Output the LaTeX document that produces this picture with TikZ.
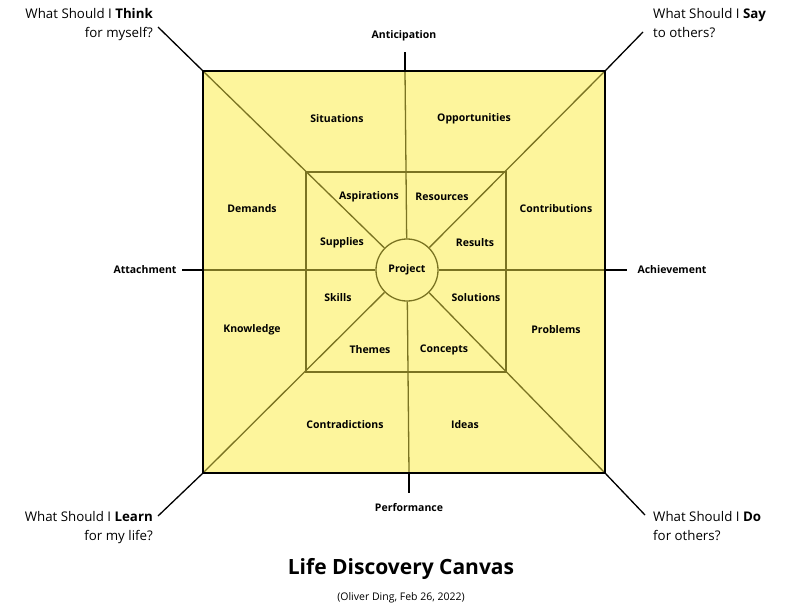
\documentclass[tikz,border=0pt]{standalone}
\usepackage{fontspec}
\setmainfont{Open Sans}
\usetikzlibrary{positioning}
\definecolor{canvasfill}{HTML}{FDF59C}
\definecolor{canvasline}{HTML}{7A7322}

\begin{document}
\begin{tikzpicture}[x=1pt,y=-1pt,
  lab/.style={font=\fontsize{10.5}{12}\selectfont\bfseries, inner sep=1pt},
  ask/.style={font=\fontsize{13.3}{19}\selectfont, inner sep=0pt},
  olive/.style={draw=canvasline, line width=1.3pt},
  stem/.style={draw=black, line width=1.3pt}]
\useasboundingbox (0,0) rectangle (786,613);
% outer and inner squares
\coordinate (otl) at (203,71);  \coordinate (otr) at (605,71);
\coordinate (obl) at (203,473); \coordinate (obr) at (605,473);
\coordinate (itl) at (306,172); \coordinate (ibr) at (506,372);
\fill[canvasfill] (otl) rectangle (obr);
\draw[olive] (itl) rectangle (ibr);
\node[circle, olive, fill=canvasfill, minimum size=62pt, lab] (proj) at (407,270) {Project};
% axes
\coordinate (nin) at (405,71);  \coordinate (nout) at (405,52);
\coordinate (sin) at (409,473); \coordinate (sout) at (409,493);
\coordinate (win) at (203,270); \coordinate (wout) at (182,270);
\coordinate (ein) at (605,270); \coordinate (eout) at (627,270);
\foreach \c in {otl,otr,obl,obr,nin,sin,win,ein}
  \draw[olive] (\c) -- (proj);
\foreach \a/\b in {nin/nout,sin/sout,win/wout,ein/eout}
  \draw[stem] (\a) -- (\b);
\draw[line width=1.5pt] (otl) rectangle (obr);
% corner stems
\coordinate (qtl) at (158,27); \coordinate (qtr) at (643,32);
\coordinate (qbl) at (158,516); \coordinate (qbr) at (645,515);
\foreach \a/\b in {otl/qtl,otr/qtr,obl/qbl,obr/qbr}
  \draw[stem] (\a) -- (\b);
% sector labels
\foreach \x/\y/\l in {337/119/Situations,474/119/Opportunities,252/209/Demands,
  556/209/Contributions,252/330/Knowledge,556/330/Problems,345/425/Contradictions,
  465/425/Ideas,369/197/Aspirations,442/197/Resources,342/243/Supplies,
  475/243/Results,338/298/Skills,476/298/Solutions,370/350/Themes,444/350/Concepts}
  \node[lab] at (\x,\y) {\l};
\node[lab] (antic) at (404,36) {Anticipation};
\node[lab] (perf) at (409,508) {Performance};
\node[lab] (attach) at (145,270) {Attachment};
\node[lab] (achieve) at (672,270) {Achievement};
% questions
\node[ask, align=right, anchor=north east] (think) at (153,8) {What Should I \textbf{Think}\\for myself?};
\node[ask, align=left, anchor=north west] (say) at (653,8) {What Should I \textbf{Say}\\to others?};
\node[ask, align=right, anchor=north east] (learn) at (153,511) {What Should I \textbf{Learn}\\for my life?};
\node[ask, align=left, anchor=north west] (do) at (653,511) {What Should I \textbf{Do}\\for others?};
% title
\node[font=\fontsize{21}{25}\selectfont\bfseries] (title) at (401,569) {Life Discovery Canvas};
\node[font=\fontsize{10.5}{12}\selectfont, below=6pt of title] (credit) {(Oliver Ding, Feb 26, 2022)};
\end{tikzpicture}
\end{document}
